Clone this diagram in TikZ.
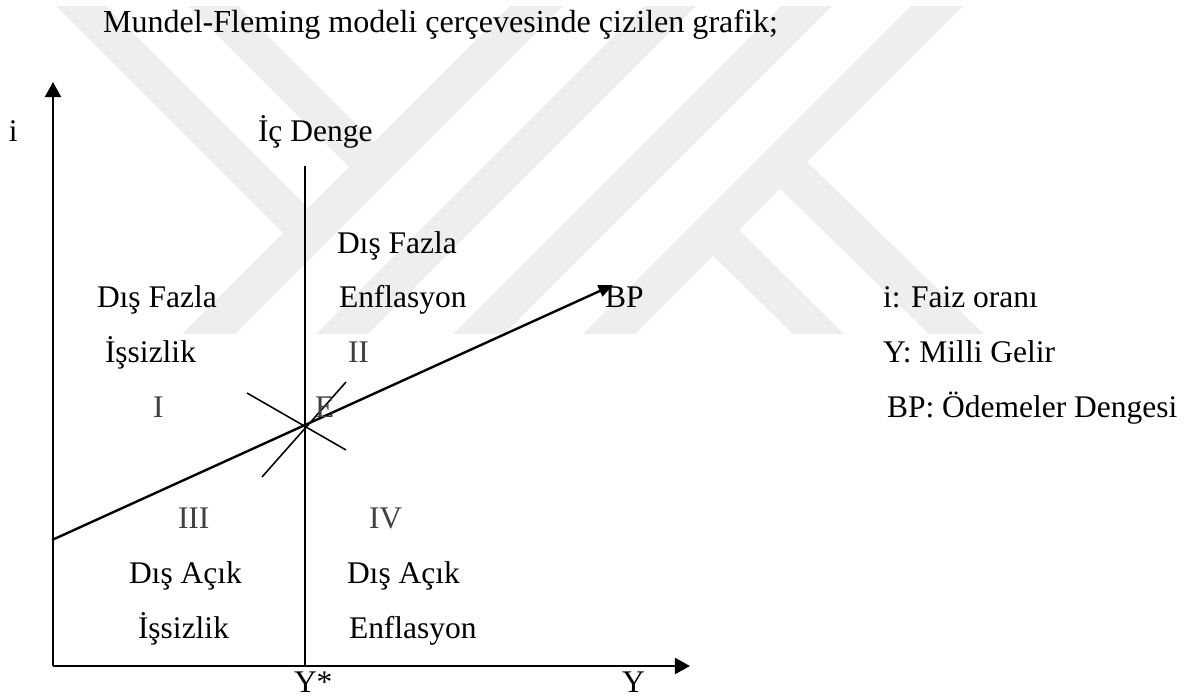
\documentclass[tikz,border=0pt]{standalone}
\usepackage{fontspec}
\setmainfont{Liberation Serif}
\usetikzlibrary{arrows.meta}
\definecolor{wm}{RGB}{238,238,238}
\definecolor{numgray}{RGB}{64,64,64}
\begin{document}
\begin{tikzpicture}[x=0.025cm, y=-0.025cm,
  lbl/.style={inner sep=0pt, outer sep=0pt, anchor=base west, font=\fontsize{22.4pt}{26pt}\selectfont},
  num/.style={lbl, text=numgray},
  axisline/.style={line width=1.9pt, -{Triangle[length=0.38cm, width=0.4cm]}},
  bpline/.style={line width=1.7pt, -{Triangle[length=0.36cm, width=0.3cm]}},
  divline/.style={line width=1.2pt},
  thinline/.style={line width=1.1pt},
  band/.style={fill=wm, draw=none}]
\useasboundingbox (0,0) rectangle (1189,697);
% watermark
\begin{scope}
\clip (0,6) rectangle (1189,333);
\fill[band] (516,0) -- (569,0) -- (229,340) -- (176,340) -- cycle;
\fill[band] (650,0) -- (702,0) -- (362,340) -- (310,340) -- cycle;
\fill[band] (787,0) -- (838,0) -- (498,340) -- (447,340) -- cycle;
\fill[band] (917,0) -- (969,0) -- (629,340) -- (577,340) -- cycle;
\fill[band] (50,0) -- (100,0) -- (321,221) -- (296,246) -- cycle;
\fill[band] (182,0) -- (232,0) -- (388,156) -- (363,181) -- cycle;
\fill[band] (767,176) -- (794,149) -- (990,340) -- (935,340) -- cycle;
\fill[band] (700,243) -- (726,217) -- (850,340) -- (799,340) -- cycle;
\end{scope}
% coordinates
\coordinate (O) at (53,666);
\coordinate (Ytop) at (53,82);
\coordinate (Xend) at (690,666);
\coordinate (Vtop) at (305,166);
\coordinate (Vbot) at (305,666);
\coordinate (BPs) at (52,540);
\coordinate (BPe) at (613,285);
\coordinate (Aa) at (247,393);
\coordinate (Ab) at (346,450);
\coordinate (Ba) at (262,477);
\coordinate (Bb) at (346,382);
% lines
\draw[axisline] (O) -- (Ytop);
\draw[axisline] (O) -- (Xend);
\draw[divline] (Vtop) -- (Vbot);
\draw[thinline] (Aa) -- (Ab);
\draw[thinline] (Ba) -- (Bb);
\draw[bpline] (BPs) -- (BPe);
% texts
\node[lbl, font=\fontsize{22.8pt}{26pt}\selectfont] (title) at (103,32) {Mundel-Fleming modeli çerçevesinde çizilen grafik;};
\node[lbl] (ilab) at (9,141) {i};
\node[lbl] (icdenge) at (258,141) {İç Denge};
\node[lbl] (df2) at (337,253) {Dış Fazla};
\node[lbl] (df1) at (97,307) {Dış Fazla};
\node[lbl] (enf2) at (339,307) {Enflasyon};
\node[lbl] (bp) at (605,307) {BP};
\node[lbl] (leg1) at (883,307) {i: Faiz oranı};
\node[lbl] (iss1) at (105,362) {İşsizlik};
\node[num] (n2) at (348,362) {II};
\node[lbl] (leg2) at (883,362) {Y: Milli Gelir};
\node[num] (n1) at (153,417) {I};
\node[num] (elab) at (315,417) {E};
\node[lbl] (leg3) at (887,417) {BP: Ödemeler Dengesi};
\node[num] (n3) at (178,528) {III};
\node[num] (n4) at (369,528) {IV};
\node[lbl] (da3) at (129,583) {Dış Açık};
\node[lbl] (da4) at (347,583) {Dış Açık};
\node[lbl] (iss3) at (138,638) {İşsizlik};
\node[lbl] (enf4) at (349,638) {Enflasyon};
\node[lbl] (ystar) at (294,692) {Y*};
\node[lbl] (ylab) at (622,692) {Y};
\end{tikzpicture}
\end{document}
